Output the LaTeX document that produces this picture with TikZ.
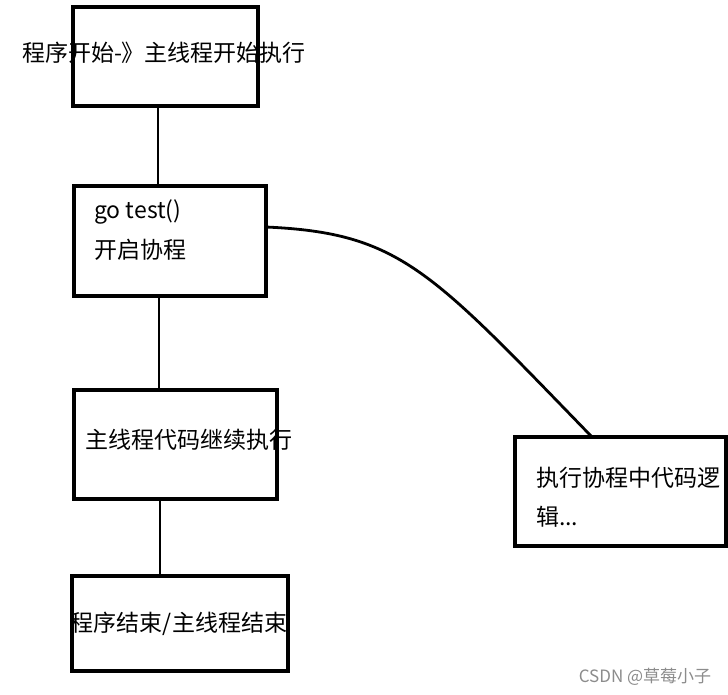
\documentclass[tikz,border=0pt]{standalone}
\usepackage{fontspec}
\setmainfont{Noto Sans CJK SC}
\begin{document}
\begin{tikzpicture}[x=1pt,y=-1pt,
  box/.style={draw=black,line width=3.2pt,fill=none},
  lbl/.style={font=\fontsize{23}{27}\selectfont,inner sep=0pt,text=black},
  link/.style={draw=black,line width=2.8pt}]
\useasboundingbox (0,0) rectangle (728,695);
\fill[white] (0,0) rectangle (728,695);
% boxes
\draw[box] (73,7) rectangle (258,106);
\coordinate (b1s) at (158,106);
\draw[box] (74,186) rectangle (266,296);
\coordinate (b2n) at (158,186);
\coordinate (b2s) at (159,296);
\coordinate (b2e) at (266,227);
\draw[box] (74,390) rectangle (277,499);
\coordinate (b3n) at (159,390);
\coordinate (b3s) at (160,499);
\draw[box] (72,576) rectangle (288,671);
\coordinate (b4n) at (160,576);
\draw[box] (515,437) rectangle (726,546);
\coordinate (b5n) at (592,437);
% texts
\node[lbl] (t1) at (164,53) {程序开始-》主线程开始执行};
\node[lbl,anchor=west] (t2a) at (94,212) {go test()};
\node[lbl,anchor=west] (t2b) at (94,250) {开启协程};
\node[lbl] (t3) at (189,440) {主线程代码继续执行};
\node[lbl] (t4) at (179,624) {程序结束/主线程结束};
\node[lbl,anchor=west] (t5a) at (536,478) {执行协程中代码逻};
\node[lbl,anchor=west] (t5b) at (536,517) {辑...};
\node[font=\fontsize{17}{19}\selectfont,text=black!45,inner sep=0pt] (wm) at (645,677) {CSDN @草莓小子};
% connectors
\draw[link] (b1s) -- (b2n);
\draw[link] (b2s) -- (b3n);
\draw[link] (b3s) -- (b4n);
\draw[link] (b2e) .. controls (400,233) and (430,270) .. (b5n);
\end{tikzpicture}
\end{document}
